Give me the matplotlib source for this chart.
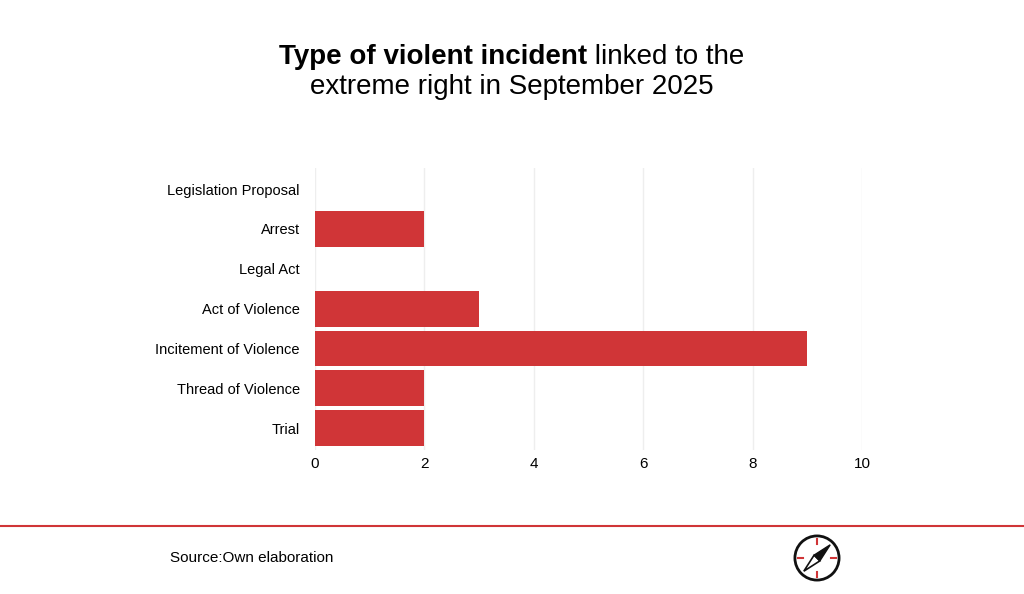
import matplotlib.pyplot as plt
import matplotlib.patches as mpatches
from matplotlib.lines import Line2D

categories = ["Legislation Proposal", "Arrest", "Legal Act", "Act of Violence",
              "Incitement of Violence", "Thread of Violence", "Trial"]
counts = [0, 2, 0, 3, 9, 2, 2]
red = "#d03537"

plt.rcParams['font.family'] = ['Liberation Sans', 'DejaVu Sans']
fig = plt.figure(figsize=(10.24, 5.94), dpi=100)
W, H = 1024, 594
ax = fig.add_axes([315 / W, 1 - 450 / H, (862 - 315) / W, (450 - 168) / H])

y = list(range(len(categories)))
ax.barh(y, counts, height=0.9, color=red)
ax.set_yticks(y)
ax.set_yticklabels(categories, fontsize=10.5)
ax.set_ylim(len(categories) - 0.45, -0.53)
ax.set_xlim(0, 10)
ax.set_xticks([0, 2, 4, 6, 8, 10])
ax.tick_params(axis='x', labelsize=11, length=0, pad=5)
ax.tick_params(axis='y', length=0, pad=11)
ax.grid(axis='x', color='#eeeeee', linewidth=1)
ax.set_axisbelow(True)
for s in ax.spines.values():
    s.set_visible(False)

# title, first line mixed bold/regular
r = fig.canvas.get_renderer()
t1 = fig.text(0, 1 - 57 / H, "Type of violent incident", fontsize=20, fontweight='bold', va='center')
t2 = fig.text(0, 1 - 57 / H, " linked to the", fontsize=20, va='center')
w1 = t1.get_window_extent(r).width
w2 = t2.get_window_extent(r).width
x0 = (W - w1 - w2) / 2
t1.set_x(x0 / W)
t2.set_x((x0 + w1) / W)
fig.text(0.5, 1 - 87 / H, "extreme right in September 2025", fontsize=20, ha='center', va='center')

fig.add_artist(Line2D([0, 1], [1 - 526 / H] * 2, color=red, linewidth=1.5))
fig.text(170 / W, 1 - 558 / H, "Source:Own elaboration", fontsize=11, va='center')

# logo
lx = fig.add_axes([793 / W, 1 - 582 / H, 48 / W, 48 / H])
lx.set_xlim(-1, 1); lx.set_ylim(-1, 1); lx.axis('off')
lx.add_patch(mpatches.Circle((0, 0), 0.92, fill=False, lw=2, color='#111111'))
for dx, dy in [(0, 1), (0, -1), (1, 0), (-1, 0)]:
    lx.plot([dx * 0.6, dx * 0.8], [dy * 0.6, dy * 0.8], color=red, lw=1.5)
lx.add_patch(mpatches.Polygon([(0.55, 0.55), (0.12, -0.12), (-0.12, 0.12)], color='#111111'))
lx.add_patch(mpatches.Polygon([(-0.55, -0.55), (0.12, -0.12), (-0.12, 0.12)], fill=False, ec='#111111', lw=1.2))

fig.savefig("out.png", dpi=100)
